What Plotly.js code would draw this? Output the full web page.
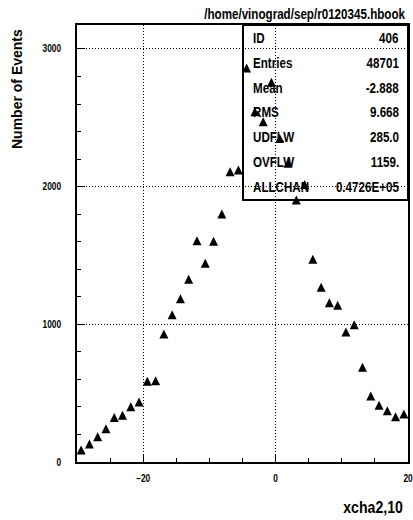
<!DOCTYPE html>
<html>
<head>
<meta charset="utf-8">
<script src="https://cdn.plot.ly/plotly-3.0.1.min.js"></script>
<style>
  html, body { margin: 0; padding: 0; background: #fff; }
  #plot { width: 413px; height: 520px; }
</style>
</head>
<body>
<div id="plot"></div>
<script>
// Histogram xcha2,10 : 40 bins of width 1.25 between -30 and 20
var binCenters = [
  -29.375, -28.125, -26.875, -25.625, -24.375, -23.125, -21.875, -20.625,
  -19.375, -18.125, -16.875, -15.625, -14.375, -13.125, -11.875, -10.625,
  -9.375, -8.125, -6.875, -5.625, -4.375, -3.125, -1.875, -0.625,
  0.625, 1.875, 3.125, 4.375, 5.625, 6.875, 8.125, 9.375,
  10.625, 11.875, 13.125, 14.375, 15.625, 16.875, 18.125, 19.375
];
var binContents = [
  87, 131, 184, 242, 324, 339, 402, 436,
  586, 591, 930, 1070, 1186, 1327, 1607, 1443,
  1603, 1801, 2108, 2120, 2862, 2544, 2471, 2758,
  2350, 2169, 1903, 2015, 1472, 1269, 1157, 1138,
  944, 997, 688, 479, 412, 373, 329, 349
];

// Statistics box entries
var statNames  = ['ID', 'Entries', 'Mean', 'RMS', 'UDFLW', 'OVFLW', 'ALLCHAN'];
var statValues = ['406', '48701', '-2.888', '9.668', '285.0', '1159.', '0.4726E+05'];

var fileTitle = '/home/vinograd/sep/r0120345.hbook';
var xTitle = 'xcha2,10';
var yTitle = 'Number of Events';

var sans = "'Liberation Sans', Arial, sans-serif";
// horizontal squeeze that turns the bold sans into a narrow face
var NARROW = 0.83;

// plot area in pixels, used to place the box and labels in paper units
var W = 413, H = 520;
var mL = 77, mR = 5, mT = 25, mB = 58;
var plotW = W - mL - mR, plotH = H - mT - mB;
function px(x) { return (x - mL) / plotW; }
function py(y) { return (H - mB - y) / plotH; }

function label(text, x, y, anchor, size) {
  return {
    xref: 'paper', yref: 'paper', x: x, y: y,
    xanchor: anchor, yanchor: 'middle', align: anchor,
    showarrow: false, text: text,
    font: { family: sans, size: size, color: '#000', weight: 'bold' }
  };
}

var annotations = [];
var rowTop = 38.3, rowStep = 24.7;
statNames.forEach(function (name, i) {
  var yc = py(rowTop + i * rowStep);
  annotations.push(label(name, px(251), yc, 'left', 14));
  annotations.push(label(statValues[i], px(401), yc, 'right', 14));
});
annotations.push(label(fileTitle, px(407), py(14), 'right', 14));
annotations.push(label(xTitle, px(405), py(508), 'right', 17));
var yLab = label(yTitle, px(17), py(89), 'center', 14);
yLab.textangle = -90;
annotations.push(yLab);

// upward triangles centred on each bin content
var trace = {
  type: 'scatter', mode: 'markers',
  x: binCenters, y: binContents,
  marker: {
    symbol: 'arrow-down', angle: 180, standoff: 4.5,
    size: 9, color: '#000', line: { width: 0 }
  },
  hoverinfo: 'x+y', cliponaxis: false
};

var axisCommon = {
  showline: true, linecolor: '#000', linewidth: 2, mirror: true,
  ticks: 'inside', tickcolor: '#000', tickwidth: 1, ticklen: 8,
  showgrid: true, gridcolor: '#000', gridwidth: 1, griddash: '1px,2px',
  zeroline: false, ticklabeloverflow: 'allow',
  tickfont: { family: sans, size: 10, color: '#000', weight: 'bold' }
};

var layout = {
  width: W, height: H,
  margin: { l: mL, r: mR, t: mT, b: mB, pad: 0 },
  paper_bgcolor: '#fff', plot_bgcolor: '#fff',
  showlegend: false,
  xaxis: Object.assign({}, axisCommon, {
    range: [-30, 20], tick0: 0, dtick: 20,
    ticklabelstandoff: 6,
    minor: { dtick: 5, tick0: 0, ticks: 'inside', ticklen: 4, tickcolor: '#000', showgrid: false }
  }),
  yaxis: Object.assign({}, axisCommon, {
    range: [0, 3174], tick0: 0, dtick: 1000,
    ticklabelstandoff: 12,
    minor: { dtick: 200, tick0: 0, ticks: 'inside', ticklen: 4, tickcolor: '#000', showgrid: false }
  }),
  shapes: [{
    type: 'rect', xref: 'paper', yref: 'paper',
    x0: px(243), x1: 1, y0: py(200), y1: 1,
    line: { color: '#000', width: 2 }, fillcolor: 'rgba(0,0,0,0)', layer: 'above'
  }],
  annotations: annotations
};

Plotly.newPlot('plot', [trace], layout, { staticPlot: true, displayModeBar: false })
  .then(function (gd) {
    var texts = gd.querySelectorAll('.xtick text, .ytick text, .annotation-text');
    texts.forEach(function (t) {
      if (t.textContent === yTitle) return;
      // scale horizontally about the text's anchor point
      var x = parseFloat(t.getAttribute('x')) || 0;
      var tr = t.getAttribute('transform') || '';
      t.setAttribute('transform', tr + ' translate(' + x + ',0) scale(' + NARROW + ',1) translate(' + (-x) + ',0)');
    });
  });
</script>
</body>
</html>
